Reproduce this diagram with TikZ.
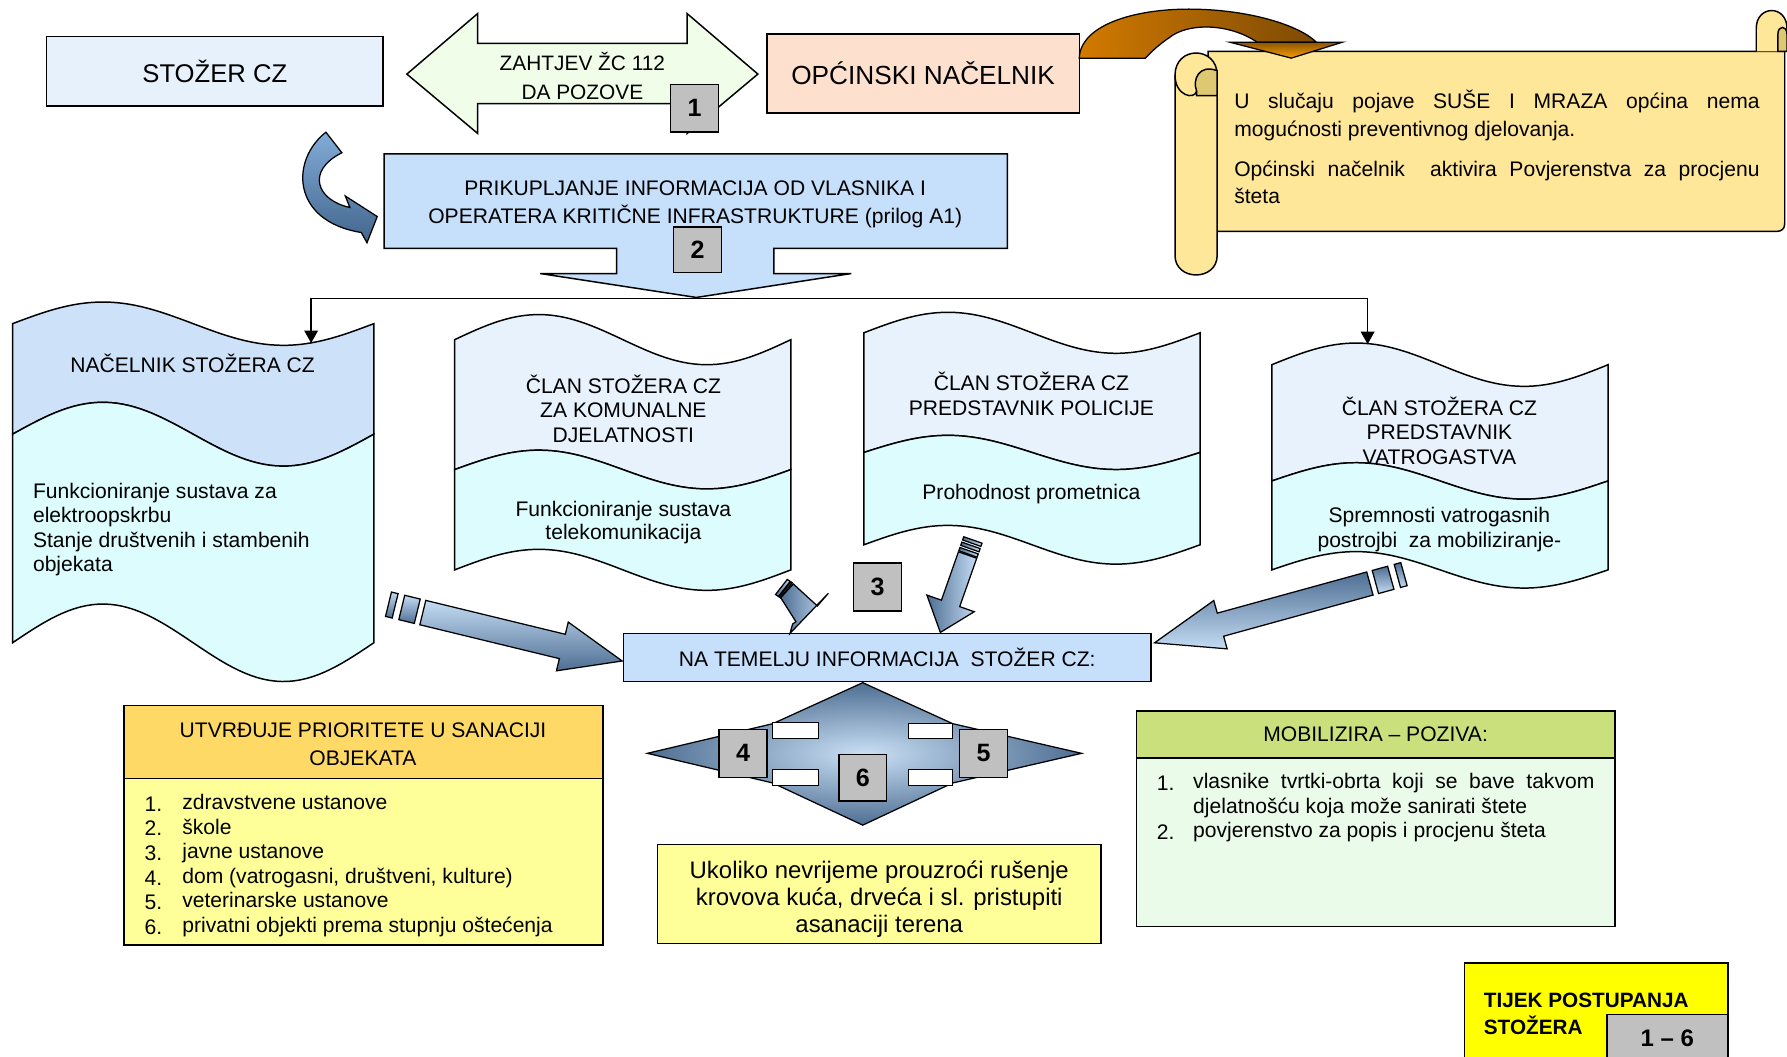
\documentclass[tikz,border=0pt]{standalone}
\usepackage{fontspec}
\setmainfont{Liberation Sans}
\usetikzlibrary{calc,arrows.meta,shadings}
\definecolor{paleblue}{HTML}{E7F1FC}
\definecolor{infoblue}{HTML}{C6E0FB}
\definecolor{palegreen}{HTML}{EFFDE9}
\definecolor{peach}{HTML}{FDE0CE}
\definecolor{numgray}{HTML}{C0C0C0}
\definecolor{scrollfill}{HTML}{FFE799}
\definecolor{scrolldark}{HTML}{DEC872}
\definecolor{docblue}{HTML}{CDE1F9}
\definecolor{docpale}{HTML}{E8F2FD}
\definecolor{doccyan}{HTML}{DCFCFD}
\definecolor{headgold}{HTML}{FFD966}
\definecolor{lightyellow}{HTML}{FFFF99}
\definecolor{olivegreen}{HTML}{C9E07D}
\definecolor{mintgreen}{HTML}{EAFCE9}
\definecolor{steelL}{HTML}{C4DCF4}
\definecolor{steelD}{HTML}{4E6E92}
\definecolor{curlL}{HTML}{82ACD8}
\definecolor{curlD}{HTML}{42658C}
\definecolor{orangeL}{HTML}{D27A00}
\definecolor{orangeD}{HTML}{7C4A04}
\definecolor{orangeH}{HTML}{F7A000}
\definecolor{signyellow}{HTML}{FFFF00}

\newcommand\fsz[2]{\fontsize{#1}{#2}\selectfont}

% wavy document: L, R, top mid, top amp, divider mid, divider amp, bottom mid, bottom amp, upper fill
\newcommand\wavedoc[9]{%
  \filldraw[docline, fill=#9]
    plot[domain=#1:#2, samples=60] (\x,{#3-#4*sin((\x-#1)/(#2-#1)*360)})
    -- plot[domain=#2:#1, samples=60] (\x,{#5-#6*sin((\x-#1)/(#2-#1)*360)}) -- cycle;
  \filldraw[docline, fill=doccyan]
    plot[domain=#1:#2, samples=60] (\x,{#5-#6*sin((\x-#1)/(#2-#1)*360)})
    -- plot[domain=#2:#1, samples=60] (\x,{#7-#8*sin((\x-#1)/(#2-#1)*360)}) -- cycle;
}

% block arrow: tail x, tail y, angle, length, half shaft, half head, head length, shading angle, extra marks
\newcommand\blockarrow[9]{%
  \begin{scope}[shift={(#1,#2)}, rotate=#3]
    \path[barrow, shading angle=#8] (0,-#5) -- ({#4-#7},-#5) -- ({#4-#7},-#6) -- (#4,0)
      -- ({#4-#7},#6) -- ({#4-#7},#5) -- (0,#5) -- cycle;
    \def\sa{#8}#9
  \end{scope}}
\newcommand\stripe[3]{\path[barrow, shading angle=\sa] (#1,-#3) rectangle (#2,#3);}

\begin{document}
\begin{tikzpicture}[x=1pt, y=-1pt,
  every node/.style={font=\fsz{18.5}{22}, inner sep=0pt, outer sep=0pt, text=black},
  box/.style={draw=black, line width=1.3pt},
  numbox/.style={box, fill=numgray, minimum width=42pt, minimum height=42pt,
    font=\fsz{22}{24}\bfseries},
  docline/.style={draw=black, line width=1.3pt},
  barrow/.style={draw=black, line width=1.1pt, top color=steelL, bottom color=steelD},
  conn/.style={draw=black, line width=1.3pt, -{Triangle[length=11pt, width=12pt]}},
  scrollline/.style={draw=black, line width=1.3pt}]

\useasboundingbox (0,0) rectangle (1568,927);

% ---- top row -------------------------------------------------------
\node[box, fill=paleblue, minimum width=295pt, minimum height=61pt,
  font=\fsz{22.5}{26}] (stozer) at (188.5,62.5) {STOŽER CZ};

\filldraw[box, fill=palegreen] (357,65) -- (419,12) -- (419,38) -- (603,38) -- (603,12)
  -- (665,65) -- (603,117) -- (603,91) -- (419,91) -- (419,117) -- cycle;
\node[align=center, font=\fsz{18.3}{25.5}] (zahtjev) at (511,67) {ZAHTJEV ŽC 112\\DA POZOVE};
\node[numbox, minimum height=42pt] (n1) at (609.5,95) {1};

\node[box, fill=peach, minimum width=274pt, minimum height=69pt,
  font=\fsz{23}{26}] (opcinski) at (810,64.5) {OPĆINSKI NAČELNIK};

% ---- scroll ----------------------------------------------------------
\filldraw[scrollline, fill=scrollfill] (1060,45) -- (1566,45) -- (1566,196)
  .. controls (1566,201) and (1563,203) .. (1559,203) -- (1060,203) -- cycle;
\filldraw[scrollline, fill=scrollfill] (1541,45) -- (1541,25)
  .. controls (1541,4) and (1568,4) .. (1568,25) -- (1568,45);
\filldraw[scrollline, fill=scrolldark] (1560,45) -- (1560,30)
  .. controls (1560,22) and (1568,22) .. (1568,30) -- (1568,45) -- cycle;
\filldraw[scrollline, fill=scrollfill] (1031,66) -- (1031,224)
  .. controls (1031,247) and (1068,247) .. (1068,224) -- (1068,66)
  .. controls (1068,40) and (1031,40) .. (1031,66) -- cycle;
\filldraw[scrollline, fill=scrolldark] (1068,62) .. controls (1052,56) and (1046,70) .. (1050,80)
  -- (1050,84) -- (1068,84) -- cycle;
\draw[scrollline] (1031,66) .. controls (1031,84) and (1048,88) .. (1050,80);

\node[text width=461pt, align=justify, font=\fsz{18.5}{24.5}, anchor=west] (scrolltxt1)
  at (1083,101.5) {U slučaju pojave SUŠE I MRAZA općina nema\linebreak mogućnosti preventivnog djelovanja.};
\node[text width=461pt, align=justify, font=\fsz{18.5}{24.5}, anchor=west] (scrolltxt2)
  at (1083,160) {Općinski načelnik \ aktivira Povjerenstva za procjenu\linebreak šteta};

% ---- orange curved arrow ---------------------------------------------
\path[draw=black, line width=1.1pt, left color=orangeL, right color=orangeD]
  (opcinski.north east |- 0,51) .. controls (948,22) and (995,8) .. (1043,8)
  .. controls (1095,8) and (1140,22) .. (1155,37) -- (1103,37)
  .. controls (1078,20) and (1042,20) .. (1026,33)
  .. controls (1013,42) and (1008,48) .. (1005,51) -- cycle;
\path[draw=black, line width=1.1pt, top color=orangeD!80!orangeL, bottom color=orangeH]
  (1079,37) -- (1178,37) -- (1133,51) -- cycle;

% ---- blue curled arrow -------------------------------------------------
\path[draw=black, line width=1.1pt, top color=curlL, bottom color=curlD]
  (286,116) .. controls (255,140) and (255,194) .. (317,204) -- (322,213) -- (331,190)
  -- (303,172) -- (307,182) .. controls (278,176) and (268,150) .. (300,134) -- cycle;

% ---- collecting information ------------------------------------------
\filldraw[box, fill=infoblue] (337,135) -- (884,135) -- (884,218) -- (679,218) -- (679,240)
  -- (747,240) -- (611,261) -- (474,240) -- (541,240) -- (541,218) -- (337,218) -- cycle;
\node[align=center, font=\fsz{18.5}{25}] (prik) at (610,179.5)
  {PRIKUPLJANJE INFORMACIJA OD VLASNIKA I\\OPERATERA KRITIČNE INFRASTRUKTURE (prilog A1)};
\node[numbox, minimum height=40pt] (n2) at (612,219) {2};

% ---- distribution line -----------------------------------------------
\coordinate (fork) at (611,262);
\coordinate (doc1in) at (273,301);
\coordinate (doc4in) at (1200,302);
\draw[conn] (fork) -| (doc1in);
\draw[conn] (fork) -| (doc4in);

% ---- staff members (wavy documents) ------------------------------------
\wavedoc{11}{328}{284}{19}{381}{28}{564}{34}{docblue}
\wavedoc{399}{694}{298}{22}{412}{17}{500}{18}{docpale}
\wavedoc{758}{1053}{292}{18}{397}{15}{478}{17}{docpale}
\wavedoc{1116}{1411}{320}{19}{422}{16}{500}{16}{docpale}

\node (d1title) at (169,318.5) {NAČELNIK STOŽERA CZ};
\node[align=left, anchor=west, font=\fsz{18.5}{21.4}] (d1body) at (29,464.5)
  {Funkcioniranje sustava za\\elektroopskrbu\\Stanje društvenih i stambenih\\objekata};
\node[align=center, font=\fsz{18.5}{21.5}] (d2title) at (547,358.5)
  {ČLAN STOŽERA CZ\\ZA KOMUNALNE\\DJELATNOSTI};
\node[align=center, font=\fsz{18.5}{21}] (d2body) at (547,458.5)
  {Funkcioniranje sustava\\telekomunikacija};
\node[align=center, font=\fsz{18.5}{22}] (d3title) at (905,346)
  {ČLAN STOŽERA CZ\\PREDSTAVNIK POLICIJE};
\node (d3body) at (905,433.5) {Prohodnost prometnica};
\node[align=center, font=\fsz{18.5}{21.5}] (d4title) at (1263,378)
  {ČLAN STOŽERA CZ\\PREDSTAVNIK\\VATROGASTVA};
\node[align=center, font=\fsz{18.5}{22}] (d4body) at (1263,465)
  {Spremnosti vatrogasnih\\postrojbi \ za mobiliziranje-};

% ---- central box -----------------------------------------------------
\node[box, fill=infoblue, minimum width=463pt, minimum height=42pt] (central) at (778.5,577)
  {NA TEMELJU INFORMACIJA \ STOŽER CZ:};
\node[numbox] (n3) at (770,515) {3};

% block arrows into the central box
\blockarrow{371}{537.5}{-13.65}{180}{11}{22}{54}{0}
  {\stripe{-19}{-5}{11}\stripe{-31}{-25}{11}}
\blockarrow{849}{487}{-109.4}{72}{8.5}{22}{27}{-90}
  {\stripe{-14}{-11}{8.5}\stripe{-9}{-6}{8.5}\stripe{-4}{-1}{8.5}}
\blockarrow{1202}{512}{-164.6}{196}{10.5}{22}{60}{180}
  {\stripe{-19}{-5}{10.5}\stripe{-31}{-25}{10.5}}
% short tilted arrow below the communal services member
\path[barrow, shading angle=-90] (685,524.4) -- (698.4,545.5) -- (695.5,547.5) -- (693.2,555.7)
  -- (726.8,520.6) -- (717.2,531.7) -- (696.1,512.4) -- cycle;
\path[barrow, shading angle=-90] (680.5,521.6) -- (690.8,508.4) -- (693.3,510.2) -- (683,523.4) -- cycle;
\path[barrow, shading angle=-90] (683.7,523.7) -- (694,510.5) -- (695.2,511.4) -- (684.9,524.6) -- cycle;

% ---- four-way star ---------------------------------------------------
\path[draw=black, line width=1.1pt, inner color=steelL!90!white, outer color=steelD]
  (757,599) -- (836,635) -- (949,661) -- (836,687) -- (757,724) -- (678,687)
  -- (568,661) -- (678,635) -- cycle;
\filldraw[draw=black, line width=1pt, fill=white] (678,634) rectangle (718,648);
\filldraw[draw=black, line width=1pt, fill=white] (678,675) rectangle (718,689);
\filldraw[draw=black, line width=1pt, fill=white] (797,635) rectangle (836,648);
\filldraw[draw=black, line width=1pt, fill=white] (797,675) rectangle (836,689);
\node[numbox] (n4) at (652,661) {4};
\node[numbox] (n5) at (863,661) {5};
\node[numbox, minimum height=41pt] (n6) at (757,682.5) {6};

% ---- priorities ------------------------------------------------------
\node[box, fill=headgold, minimum width=420pt, minimum height=64pt] (utvhead) at (319,651) {};
\node[align=center, font=\fsz{18.5}{25}] (utvtitle) at (318.5,653)
  {UTVRĐUJE PRIORITETE U SANACIJI\\OBJEKATA};
\node[box, fill=lightyellow, minimum width=420pt, minimum height=146pt] (utvbody) at (319,756) {};
\node[align=left, anchor=west, font=\fsz{18.5}{21.6}] (utvnum) at (127,759.5)
  {1.\\2.\\3.\\4.\\5.\\6.};
\node[align=left, anchor=west, font=\fsz{18.5}{21.6}] (utvlist) at (160,759.5)
  {zdravstvene ustanove\\škole\\javne ustanove\\dom (vatrogasni, društveni, kulture)\\veterinarske ustanove\\privatni objekti prema stupnju oštećenja};

% ---- clearing note ---------------------------------------------------
\node[box, fill=lightyellow, minimum width=389pt, minimum height=87pt] (ukoliko) at (771.5,784.5) {};
\node[align=center, font=\fsz{21}{24}] (ukolikotxt) at (771.5,789)
  {Ukoliko nevrijeme prouzroći rušenje\\krovova kuća, drveća i sl. pristupiti\\asanaciji terena};

% ---- mobilisation ----------------------------------------------------
\node[box, fill=olivegreen, minimum width=420pt, minimum height=41pt] (mobhead) at (1207,644.5)
  {MOBILIZIRA – POZIVA:};
\node[box, fill=mintgreen, minimum width=420pt, minimum height=148pt] (mobbody) at (1207,739) {};
\node[align=left, anchor=west, font=\fsz{18.5}{21.5}] (mobnum) at (1015,709) {1.\\\\2.};
\node[text width=352pt, align=justify, anchor=west, font=\fsz{18.5}{21.5}] (moblist) at (1047,709)
  {\exhyphenpenalty=10000 vlasnike tvrtki-obrta koji se bave takvom\linebreak djelatnošću koja može sanirati štete\\povjerenstvo za popis i procjenu šteta};

% ---- legend ----------------------------------------------------------
\filldraw[box, fill=signyellow] (1285,845) rectangle (1516,940);
\node[align=left, anchor=west, font=\fsz{18.2}{24}\bfseries] (tijek) at (1302,889.5)
  {TIJEK POSTUPANJA\\STOŽERA};
\filldraw[box, fill=numgray] (1410,890) rectangle (1516,940);
\node[font=\fsz{21}{24}\bfseries] (range) at (1463,911) {1 – 6};

\end{tikzpicture}
\end{document}
